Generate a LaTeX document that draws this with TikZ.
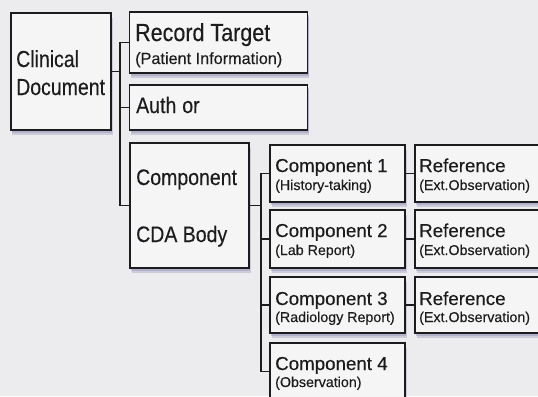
\documentclass[tikz,border=0pt]{standalone}
\usepackage{fontspec}
\setmainfont[FakeBold=0.3]{Liberation Sans}
\newfontfamily\widefont[FakeStretch=0.87, FakeBold=0.3]{Liberation Sans}
\newfontfamily\slimfont[FakeStretch=0.84, FakeBold=0.3]{Liberation Sans}
\usetikzlibrary{shadows}

\definecolor{paper}{RGB}{236,236,238}
\definecolor{boxfill}{RGB}{245,245,246}
\definecolor{ink}{RGB}{28,28,30}
\definecolor{shade}{RGB}{130,130,175}

\tikzset{
  box/.style={draw=ink, line width=1.3bp, fill=boxfill, inner sep=0pt,
    general shadow={fill=shade, opacity=.30, shadow xshift=1.5bp, shadow yshift=-5bp},
    general shadow={fill=shade, opacity=.35, shadow xshift=1bp, shadow yshift=-2.5bp}},
  wire/.style={draw=ink, line width=1.3bp},
  txt/.style={anchor=base west, inner sep=0pt, text=ink},
  bigtxt/.style={txt, font=\widefont\fontsize{22.5}{27}\selectfont},
  cdtxt/.style={txt, font=\slimfont\fontsize{23.3}{27}\selectfont},
  rttxt/.style={txt, font=\widefont\fontsize{24.8}{29}\selectfont},
  midtxt/.style={txt, font=\fontsize{18.8}{22}\selectfont},
  smalltxt/.style={txt, font=\fontsize{14.3}{17}\selectfont},
}

\begin{document}
\begin{tikzpicture}[x=1bp, y=-1bp]
\useasboundingbox (0,0) rectangle (538,396);
\clip (0,0) rectangle (538,396);
\fill[paper] (0,0) rectangle (538,396);

% first level
\node[box, minimum width=100bp, minimum height=117bp] (cd) at (61,71.5) {};
\node[box, minimum width=178bp, minimum height=61bp] (rt) at (218.5,42.5) {};
\node[box, minimum width=178bp, minimum height=45bp] (au) at (218.5,107.5) {};
\node[box, minimum width=119bp, minimum height=125bp] (cda) at (189.5,205.5) {};

% components of the body
\node[box, minimum width=135bp, minimum height=57bp] (c1) at (337.5,173.5) {};
\node[box, minimum width=135bp, minimum height=58bp] (c2) at (337.5,239) {};
\node[box, minimum width=135bp, minimum height=56bp] (c3) at (337.5,305) {};
\node[box, minimum width=135bp, minimum height=57bp] (c4) at (337.5,371.5) {};

% external references
\node[box, minimum width=126bp, minimum height=57bp] (r1) at (478,173.5) {};
\node[box, minimum width=126bp, minimum height=58bp] (r2) at (478,239) {};
\node[box, minimum width=126bp, minimum height=56bp] (r3) at (478,305) {};

% labels
\node[cdtxt] (cdt1) at (16,67) {Clinical};
\node[cdtxt] (cdt2) at (16,95) {Document};
\node[rttxt] (rtt1) at (135,41) {Record Target};
\node[smalltxt, font=\fontsize{16.3}{19}\selectfont] (rtt2) at (135,64) {(Patient Information)};
\node[bigtxt] (aut) at (136,113) {Auth\kern6bp or};
\node[bigtxt] (cdat1) at (136,185) {Component};
\node[bigtxt] (cdat2) at (136,242) {CDA Body};

\node[midtxt] (c1t1) at (275,172) {Component 1};
\node[smalltxt] (c1t2) at (275,190) {(History-taking)};
\node[midtxt] (c2t1) at (275,237) {Component 2};
\node[smalltxt] (c2t2) at (275,255) {(Lab Report)};
\node[midtxt] (c3t1) at (275,305) {Component 3};
\node[smalltxt] (c3t2) at (275,322) {(Radiology Report)};
\node[midtxt] (c4t1) at (275,370) {Component 4};
\node[smalltxt] (c4t2) at (275,387) {(Observation)};

\node[midtxt] (r1t1) at (419,172) {Reference};
\node[smalltxt] (r1t2) at (419,190) {(Ext.Observation)};
\node[midtxt] (r2t1) at (419,237) {Reference};
\node[smalltxt] (r2t2) at (419,255) {(Ext.Observation)};
\node[midtxt] (r3t1) at (419,305) {Reference};
\node[smalltxt] (r3t2) at (419,322) {(Ext.Observation)};

% tree connectors
\coordinate (ta) at (120,0);
\coordinate (tb) at (261,0);
\draw[wire] (rt.west) -- (rt.west -| ta) |- (cda.west);
\draw[wire] (cd.east) -- (cd.east -| ta);
\draw[wire] (au.west) -- (au.west -| ta);

\draw[wire] (c1.west) -- (c1.west -| tb) |- (c4.west);
\draw[wire] (cda.east) -- (cda.east -| tb);
\draw[wire] (c2.west) -- (c2.west -| tb);
\draw[wire] (c3.west) -- (c3.west -| tb);

\draw[wire] (c1.east) -- (r1.west);
\draw[wire] (c2.east) -- (r2.west);
\draw[wire] (c3.east) -- (r3.west);
\end{tikzpicture}
\end{document}
